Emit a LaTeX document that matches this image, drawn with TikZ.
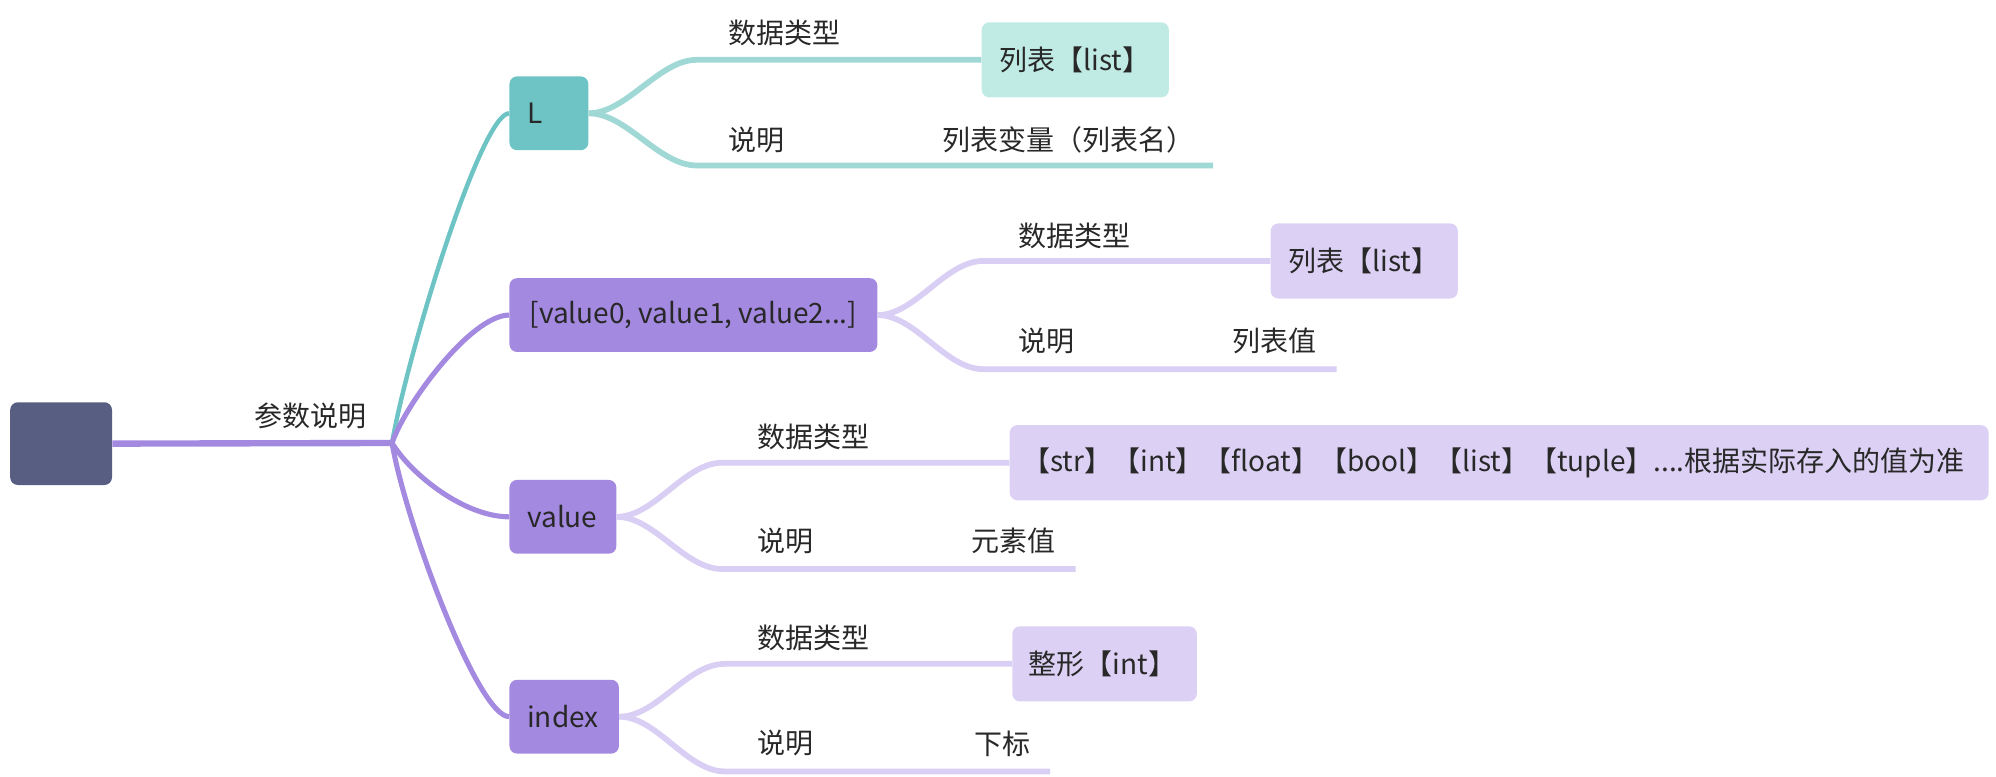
\documentclass[tikz,border=0pt]{standalone}
\usepackage{fontspec}
\newfontfamily\cjk{Noto Sans CJK SC}
\definecolor{rootc}{RGB}{87,94,130}
\definecolor{tealA}{RGB}{110,196,196}
\definecolor{tealB}{RGB}{160,216,214}
\definecolor{tealC}{RGB}{192,235,228}
\definecolor{purA}{RGB}{163,137,224}
\definecolor{purB}{RGB}{217,206,243}
\definecolor{purC}{RGB}{220,209,244}
\definecolor{txt}{RGB}{40,40,40}
\begin{document}
\begin{tikzpicture}[x=1pt,y=-1pt,
  fnt/.style={font=\cjk\fontsize{22}{26}\selectfont},
  topic/.style={fnt, rounded corners=6pt, inner xsep=14pt, inner ysep=0pt, minimum height=58, anchor=west, align=left, text=txt},
  leaf/.style={fnt, rounded corners=6pt, inner xsep=14pt, inner ysep=0pt, minimum height=59, anchor=west, align=left, text=txt},
  lbl/.style={fnt, anchor=west, inner sep=0pt, text=txt},
  mainpur/.style={line width=4, purA},
  mainteal/.style={line width=3.5, tealA},
  subpur/.style={line width=4.5, purB},
  subteal/.style={line width=4.5, tealB}]
\useasboundingbox (0,0) rectangle (1568,610);

% main topics
\node[rounded corners=6pt, inner sep=0pt, fill=rootc, minimum width=80, minimum height=65] (root) at (48,348.5) {};
\coordinate (br) at (308,348);
\node[topic, fill=tealA, text width=34pt] (L) at (400,89) {L};
\node[fnt, rounded corners=6pt, inner sep=0pt, minimum height=58, minimum width=289, anchor=west, text=txt, fill=purA] (V) at (400,247.5) {[value0, value1, value2...]};
\node[topic, fill=purA, text width=56pt] (val) at (400,406) {value};
\node[topic, fill=purA, text width=58pt] (idx) at (400,563) {index};

% leaf boxes
\node[leaf, fill=tealC, text width=119pt] (LT) at (771,47) {列表【list】};
\node[leaf, fill=purC, text width=119pt] (VT) at (998,205) {列表【list】};
\node[leaf, fill=purC, inner xsep=10pt, text width=749pt] (valT) at (793,363.5) {【str】【int】【float】【bool】【list】【tuple】....根据实际存入的值为准};
\node[leaf, fill=purC, inner xsep=13pt, text width=119pt] (idxT) at (795,521.5) {整形【int】};

% free ends of underline branches
\coordinate (Le) at (953,130);
\coordinate (Ve) at (1050,290);
\coordinate (vale) at (845,447);
\coordinate (idxe) at (825,606);

% root connectors
\node[lbl] (cs) at (200,327) {参数说明};
\draw[line width=5, purA] (root.east) -- (br);
\draw[mainteal] (br) .. controls +(12,-70) and +(-22,0) .. (L.west);
\draw[mainpur] (br) .. controls +(10,-30) and +(-30,0) .. (V.west);
\draw[mainpur] (br) .. controls +(15,25) and +(-35,0) .. (val.west);
\draw[mainpur] (br) .. controls +(10,60) and +(-25,0) .. (idx.west);

% L children
\draw[subteal] (L.east) .. controls +(30,0) and +(-30,0) .. ++(85,-42) -- (LT.west);
\draw[subteal] (L.east) .. controls +(30,0) and +(-30,0) .. ++(85,41) -- (Le);
\node[lbl] (L1) at (572,26) {数据类型};
\node[lbl] (L2) at (572,110) {说明};
\node[lbl] (L3) at (740,110) {列表变量（列表名）};

% V children
\draw[subpur] (V.east) .. controls +(30,0) and +(-30,0) .. ++(83,-42.5) -- (VT.west);
\draw[subpur] (V.east) .. controls +(30,0) and +(-30,0) .. ++(83,42.5) -- (Ve);
\node[lbl] (V1) at (800,185) {数据类型};
\node[lbl] (V2) at (800,268) {说明};
\node[lbl] (V3) at (968,268) {列表值};

% value children
\draw[subpur] (val.east) .. controls +(30,0) and +(-30,0) .. ++(83,-42.5) -- (valT.west);
\draw[subpur] (val.east) .. controls +(30,0) and +(-30,0) .. ++(83,41) -- (vale);
\node[lbl] (val1) at (595,343) {数据类型};
\node[lbl] (val2) at (595,425) {说明};
\node[lbl] (val3) at (763,425) {元素值};

% index children
\draw[subpur] (idx.east) .. controls +(30,0) and +(-30,0) .. ++(83,-41.5) -- (idxT.west);
\draw[subpur] (idx.east) .. controls +(30,0) and +(-30,0) .. ++(83,43) -- (idxe);
\node[lbl] (idx1) at (595,501) {数据类型};
\node[lbl] (idx2) at (595,584) {说明};
\node[lbl] (idx3) at (765,584) {下标};
\end{tikzpicture}
\end{document}
